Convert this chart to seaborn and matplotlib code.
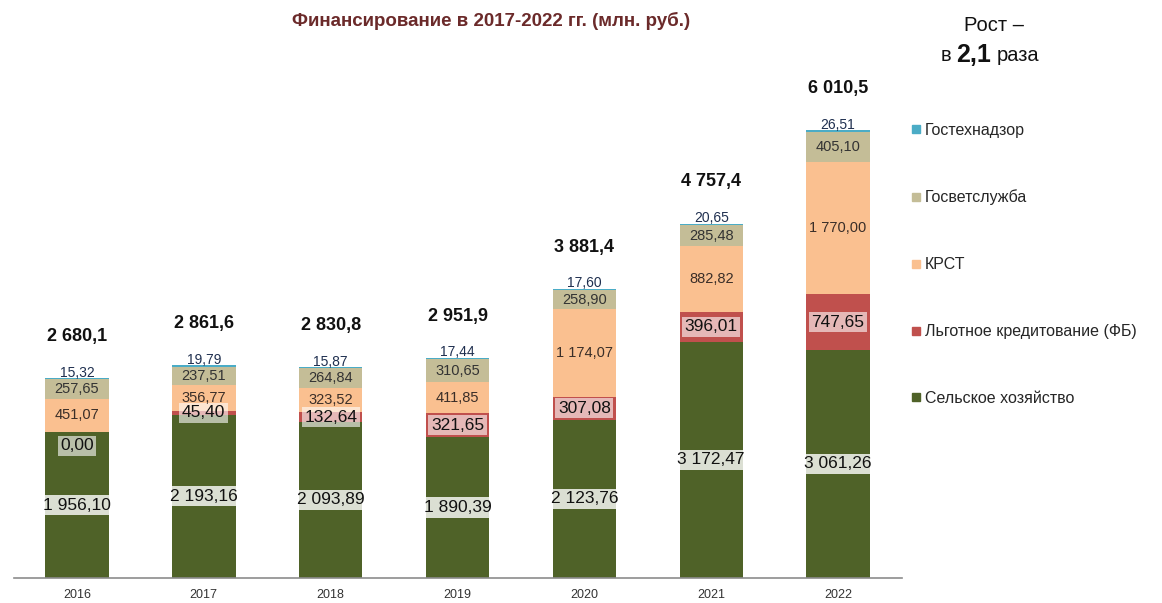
import numpy as np
import pandas as pd
import matplotlib
matplotlib.use("Agg")
import matplotlib.pyplot as plt
from matplotlib.lines import Line2D
import seaborn as sns

# data
years = ["2016", "2017", "2018", "2019", "2020", "2021", "2022"]
selhoz = [1956.10, 2193.16, 2093.89, 1890.39, 2123.76, 3172.47, 3061.26]
lgot_kred = [0.00, 45.40, 132.64, 321.65, 307.08, 396.01, 747.65]
krst = [451.07, 356.77, 323.52, 411.85, 1174.07, 882.82, 1770.00]
gosvet = [257.65, 237.51, 264.84, 310.65, 258.90, 285.48, 405.10]
gostekh = [15.32, 19.79, 15.87, 17.44, 17.60, 20.65, 26.51]
totals = [2680.1, 2861.6, 2830.8, 2951.9, 3881.4, 4757.4, 6010.5]

names = ["Сельское хозяйство", "Льготное кредитование (ФБ)", "КРСТ",
         "Госветслужба", "Гостехнадзор"]
colors = ["#4F6228", "#C0504D", "#FAC090", "#C4BD97", "#4BACC6"]

sns.set_style("white")
plt.rcParams["font.family"] = ["Liberation Sans", "DejaVu Sans"]


def fmt(v, nd=2):
    s = f"{v:,.{nd}f}"
    return s.replace(",", " ").replace(".", ",")


df = pd.DataFrame({"year": years, names[0]: selhoz, names[1]: lgot_kred,
                   names[2]: krst, names[3]: gosvet, names[4]: gostekh})
cum = df[names].cumsum(axis=1)

fig = plt.figure(figsize=(11.62, 6.03), dpi=100)
ax = fig.add_axes([0.01162, 0.04146, 0.7642, 0.865])

# stacked bars: draw cumulative heights from the top series down
for name, col in reversed(list(zip(names, colors))):
    sns.barplot(x=df["year"], y=cum[name], color=col, width=0.5,
                saturation=1, ax=ax, linewidth=0)

ax.set_ylim(0, 7000)
ax.set_xlim(-0.5, 6.5)
ax.set_xlabel("")
ax.set_ylabel("")
ax.set_yticks([])
for s in ["top", "right", "left"]:
    ax.spines[s].set_visible(False)
ax.spines["bottom"].set_color("#8C8C8C")
ax.spines["bottom"].set_linewidth(1.2)
ax.set_xticks(range(len(years)))
ax.set_xticklabels(years, fontsize=9, color="#333333")
ax.set_xticks(np.arange(-0.5, len(years), 1), minor=True)
ax.tick_params(axis="x", which="major", length=0, pad=8)
ax.tick_params(axis="x", which="minor", length=5, width=1, color="#8C8C8C",
               direction="out")

x = np.arange(len(years))
bottoms = cum.shift(1, axis=1).fillna(0)

# labels per series
for i in x:
    # Сельское хозяйство
    mid = selhoz[i] / 2
    ax.text(i, mid, fmt(selhoz[i]), ha="center", va="center", fontsize=12.5,
            color="#111111",
            bbox=dict(boxstyle="square,pad=0.15", fc="white", ec="none", alpha=0.8))
    # Льготное кредитование
    mid = bottoms[names[1]][i] + lgot_kred[i] / 2
    if lgot_kred[i] == 0:
        mid -= 180
    ax.text(i, mid, fmt(lgot_kred[i]), ha="center", va="center", fontsize=12.5,
            color="#111111",
            bbox=dict(boxstyle="square,pad=0.15", fc="white", ec="none", alpha=0.6))
    # КРСТ
    mid = bottoms[names[2]][i] + krst[i] / 2
    ax.text(i, mid, fmt(krst[i]), ha="center", va="center", fontsize=10.5,
            color="#3A2E28")
    # Госветслужба
    mid = bottoms[names[3]][i] + gosvet[i] / 2
    ax.text(i, mid, fmt(gosvet[i]), ha="center", va="center", fontsize=10.5,
            color="#333333")
    # Гостехнадзор, above the bar
    top = cum[names[4]][i]
    ax.annotate(fmt(gostekh[i]), (i, top), xytext=(0, 4), textcoords="offset points",
                ha="center", va="center", fontsize=10, color="#1F2F4F")
    # totals
    ax.annotate(fmt(totals[i], 1), (i, top), xytext=(0, 30), textcoords="offset points",
                ha="center", va="center", fontsize=13, fontweight="bold",
                color="#111111")

# title
fig.text(0.423, 0.965, "Финансирование в 2017-2022 гг. (млн. руб.)",
         ha="center", va="center", fontsize=13.5, fontweight="bold", color="#6B2A2A")

# growth note
fig.text(0.855, 0.958, "Рост –", ha="center", va="center", fontsize=14.5,
         color="#111111")
fig.text(0.819, 0.908, "в", ha="right", va="center", fontsize=14.5, color="#111111")
fig.text(0.838, 0.908, "2,1", ha="center", va="center", fontsize=18,
         fontweight="bold", color="#111111")
fig.text(0.858, 0.908, "раза", ha="left", va="center", fontsize=14.5, color="#111111")

# legend
handles = [Line2D([0], [0], marker="s", linestyle="", markersize=6,
                  markerfacecolor=c, markeredgecolor=c) for c in colors]
leg = fig.legend(handles[::-1], names[::-1], loc="upper left",
                 bbox_to_anchor=(0.777, 0.81), frameon=False, fontsize=11.5,
                 handlelength=0.6, handletextpad=0.3, labelspacing=3.25,
                 borderpad=0)

fig.savefig("out.png", dpi=100)
